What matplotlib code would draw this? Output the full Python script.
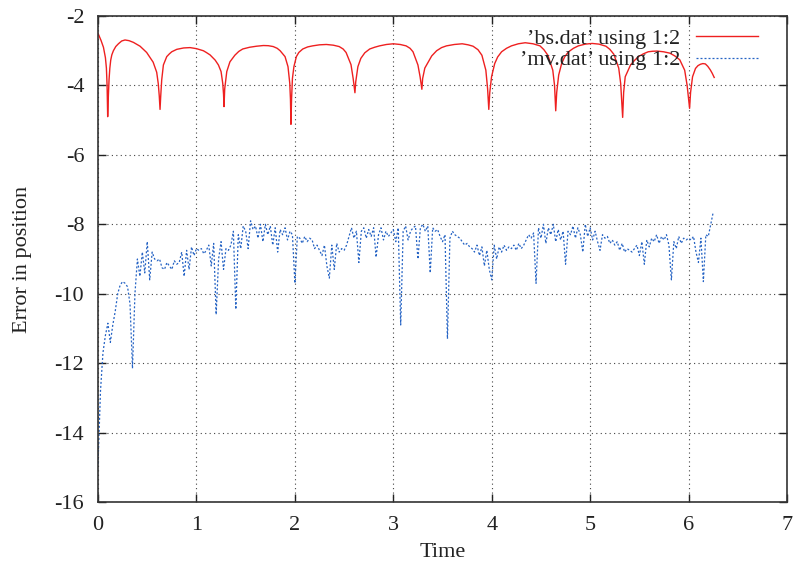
import numpy as np
import matplotlib
matplotlib.use("Agg")
import matplotlib.pyplot as plt

plt.rcParams['font.family'] = ['Liberation Serif', 'DejaVu Serif']
plt.rcParams['axes.unicode_minus'] = False

# 'bs.dat' : error curve with cusps (time, value)
bs_t = [0.0, 0.03, 0.055, 0.075, 0.085, 0.092, 0.098,
        0.105, 0.112, 0.12, 0.129, 0.14, 0.156, 0.18, 0.207, 0.24, 0.274, 0.315, 0.36, 0.427, 0.494,
        0.56, 0.596, 0.612, 0.622, 0.63,
        0.637, 0.647, 0.664, 0.698, 0.725, 0.749, 0.77, 0.80, 0.87, 0.935, 1.0, 1.07, 1.1, 1.138,
        1.19, 1.223, 1.25, 1.267, 1.275, 1.28,
        1.287, 1.308, 1.34, 1.39, 1.43, 1.47, 1.54, 1.61, 1.68, 1.73, 1.78, 1.82, 1.85, 1.90,
        1.93, 1.948, 1.955, 1.96,
        1.966, 1.975, 1.99, 2.015, 2.04, 2.08, 2.13, 2.18, 2.25, 2.32, 2.39, 2.45, 2.49, 2.52,
        2.57, 2.592, 2.61,
        2.618, 2.64, 2.67, 2.71, 2.76, 2.81, 2.86, 2.93, 3.0, 3.07, 3.13, 3.17, 3.2, 3.25, 3.272, 3.29,
        3.298, 3.32, 3.35, 3.39, 3.44, 3.49, 3.54, 3.62, 3.70, 3.76, 3.81, 3.86, 3.90, 3.94, 3.958, 3.97,
        3.98, 3.998, 4.03, 4.06, 4.1, 4.15, 4.2, 4.27, 4.34, 4.42, 4.49, 4.53, 4.57, 4.62, 4.638, 4.65,
        4.66, 4.68, 4.71, 4.74, 4.78, 4.83, 4.88, 4.95, 5.02, 5.09, 5.16, 5.2, 5.24, 5.29, 5.31, 5.33,
        5.34, 5.356, 5.41, 5.45, 5.49, 5.54, 5.59, 5.635, 5.68, 5.745, 5.81, 5.86, 5.91, 5.96, 5.985, 6.01,
        6.02, 6.04, 6.07, 6.095, 6.12, 6.145, 6.17, 6.195, 6.22, 6.24, 6.26]
bs_y = [-2.5, -2.7, -2.9, -3.2, -3.5, -4.0, -4.9,
        -4.3, -3.83, -3.5, -3.27, -3.12, -3.0, -2.88, -2.8, -2.72, -2.69, -2.71, -2.76, -2.87, -3.05,
        -3.33, -3.62, -3.95, -4.3, -4.69,
        -4.3, -3.84, -3.41, -3.17, -3.09, -3.03, -3.0, -2.96, -2.92, -2.91, -2.94, -3.0, -3.05, -3.12,
        -3.27, -3.41, -3.6, -3.94, -4.25, -4.61,
        -4.1, -3.6, -3.32, -3.13, -3.02, -2.95, -2.9, -2.87, -2.85, -2.855, -2.88, -2.93, -3.0, -3.17,
        -3.46, -3.94, -4.4, -5.12,
        -4.4, -3.8, -3.46, -3.17, -3.05, -2.95, -2.89, -2.86, -2.83, -2.82, -2.84, -2.88, -2.95, -3.05,
        -3.4, -3.8, -4.21,
        -3.9, -3.46, -3.22, -3.06, -2.95, -2.9, -2.86, -2.82, -2.8, -2.82, -2.86, -2.93, -3.03, -3.41, -3.75, -4.11,
        -3.8, -3.5, -3.35, -3.15, -3.0, -2.91, -2.86, -2.82, -2.8, -2.83, -2.87, -2.97, -3.13, -3.56, -4.1, -4.69,
        -4.2, -3.75, -3.37, -3.18, -3.03, -2.93, -2.86, -2.8, -2.77, -2.8, -2.86, -2.97, -3.13, -3.56, -4.0, -4.73,
        -4.2, -3.7, -3.37, -3.18, -3.03, -2.93, -2.86, -2.81, -2.79, -2.81, -2.87, -2.96, -3.1, -3.5, -3.95, -4.92,
        -4.2, -3.75, -3.41, -3.28, -3.17, -3.09, -3.03, -3.015, -3.01, -3.03, -3.07, -3.15, -3.26, -3.56, -4.0, -4.66,
        -4.2, -3.75, -3.51, -3.43, -3.39, -3.37, -3.38, -3.45, -3.55, -3.65, -3.77]

# 'mv.dat' : noisy error, sampled every 0.025
mv_t = np.arange(251) * 0.025
mv_y = [-14.9, -12.8, -11.7, -11.2, -10.85, -11.4, -10.9, -10.5, -10.0, -9.75,
        -9.65, -9.7, -9.8, -10.3, -12.15, -10.0, -9.0, -9.5, -8.8, -9.4,
        -8.5, -9.6, -8.8, -9.0, -9.05, -9.0, -9.25, -9.3, -9.1, -9.2,
        -9.3, -9.05, -9.15, -9.1, -8.8, -9.5, -8.75, -9.3, -8.65, -8.9,
        -8.7, -8.75, -8.7, -8.85, -8.75, -8.6, -9.2, -8.55, -10.6, -9.0,
        -8.5, -9.3, -8.7, -8.75, -8.6, -8.2, -10.45, -8.3, -8.7, -8.05,
        -8.2, -8.7, -7.9, -8.15, -8.05, -8.4, -8.0, -8.5, -8.0, -8.3,
        -8.05, -8.6, -8.1, -8.8, -8.15, -8.3, -8.1, -8.45, -8.2, -8.3,
        -9.7, -8.35, -8.4, -8.55, -8.35, -8.5, -8.4, -8.45, -8.7, -8.6,
        -8.75, -8.9, -8.6, -9.2, -9.55, -8.6, -9.3, -8.55, -8.8, -8.7,
        -8.75, -8.6, -8.35, -8.1, -8.4, -8.2, -9.1, -8.2, -8.1, -8.4,
        -8.15, -8.35, -8.1, -8.95, -8.3, -8.1, -8.45, -8.2, -8.35, -8.25,
        -8.15, -8.5, -8.1, -10.9, -8.2, -8.05, -8.45, -8.2, -8.1, -8.05,
        -9.0, -8.1, -8.0, -8.2, -8.05, -9.4, -8.1, -8.2, -8.15, -8.35,
        -8.5, -8.3, -11.3, -8.4, -8.2, -8.3, -8.35, -8.4, -8.5, -8.6,
        -8.55, -8.65, -8.7, -8.8, -8.6, -8.9, -8.65, -9.2, -8.75, -9.3,
        -9.6, -8.6, -9.0, -8.65, -8.8, -8.6, -8.75, -8.65, -8.7, -8.6,
        -8.75, -8.55, -8.7, -8.6, -8.45, -8.3, -8.4, -8.25, -9.7, -8.1,
        -8.4, -8.0, -8.55, -8.1, -8.3, -8.0, -8.5, -8.15, -8.45, -8.2,
        -9.15, -8.2, -8.3, -8.05, -8.4, -8.1, -8.3, -8.8, -8.0, -8.35,
        -8.1, -8.45, -8.2, -8.5, -8.75, -8.3, -8.4, -8.35, -8.55, -8.45,
        -8.6, -8.5, -8.75, -8.55, -8.8, -8.7, -8.75, -8.8, -8.7, -8.6,
        -8.9, -8.5, -9.15, -8.45, -8.65, -8.4, -8.5, -8.3, -8.55, -8.35,
        -8.45, -8.3, -8.6, -9.6, -8.5, -8.7, -8.35, -8.55, -8.4, -8.45,
        -8.4, -8.45, -8.35, -8.8, -9.1, -8.4, -9.65, -8.3, -8.35, -8.0,
        -7.65]

x_ticks = [0, 1, 2, 3, 4, 5, 6, 7]
y_ticks = [-16, -14, -12, -10, -8, -6, -4, -2]

fig = plt.figure(figsize=(7.97, 5.74), dpi=100)
ax = fig.add_axes([0.123, 0.1254, 0.8645, 0.8467])

ax.plot(bs_t, bs_y, color='#ee2020', lw=1.0, label='\u2019bs.dat\u2019 using 1:2')
ax.plot(mv_t, mv_y, color='#2563c4', lw=0.9, ls=(0, (1.6, 1.6)), label='\u2019mv.dat\u2019 using 1:2')

ax.set_xlim(0, 7)
ax.set_ylim(-16, -2)
ax.set_xticks(x_ticks)
ax.set_yticks(y_ticks)
ax.grid(True, color='#444444', lw=0.8, ls=(0, (1, 3)))
ax.tick_params(direction='in', length=6, width=1, top=True, right=True,
               labelsize=16, colors='#222222', pad=10)
for s in ax.spines.values():
    s.set_linewidth(1.2)
    s.set_color('#333333')

ax.set_xlabel('Time', fontsize=16, color='#222222', labelpad=6)
ax.set_ylabel('Error in position', fontsize=16, color='#222222', labelpad=16)

leg = ax.legend(loc='upper right', bbox_to_anchor=(0.958, 0.975), frameon=False,
                markerfirst=False, fontsize=16, handlelength=2.8, handletextpad=0.7,
                labelspacing=0.05, borderaxespad=0, borderpad=0)
for t in leg.get_texts():
    t.set_color('#222222')

fig.savefig('out.png', dpi=100)
